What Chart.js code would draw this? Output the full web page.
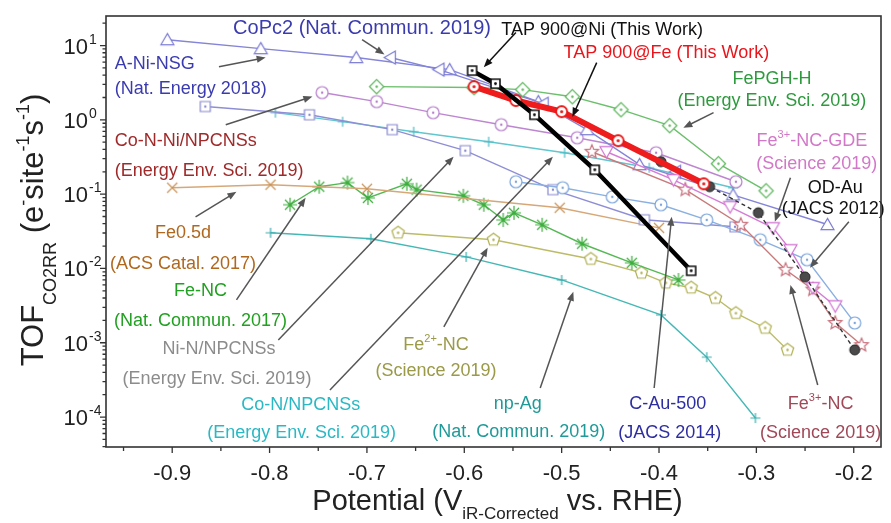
<!DOCTYPE html>
<html>
<head>
<meta charset="utf-8">
<script src="https://cdn.jsdelivr.net/npm/chart.js@4.4.0/dist/chart.umd.min.js"></script>
<style>
  html, body { margin: 0; padding: 0; background: #fff; }
  canvas { display: block; }
</style>
</head>
<body>
<canvas id="tofChart" width="891" height="523"></canvas>
<script>
'use strict';
//  axis range
var xMin = -0.968, xMax = -0.172;
var yMin = 3.95e-5, yMax = 25;
var xTicks = [-0.9, -0.8, -0.7, -0.6, -0.5, -0.4, -0.3, -0.2];
var xTickLabels = ['-0.9', '-0.8', '-0.7', '-0.6', '-0.5', '-0.4', '-0.3', '-0.2'];
var yTicks = [1e1, 1e0, 1e-1, 1e-2, 1e-3, 1e-4];
var yTickExp = ['1', '0', '-1', '-2', '-3', '-4'];

//  series : potential (V vs RHE) and TOF (e- site-1 s-1)
var tapNiX = [-0.592, -0.568, -0.528, -0.466, -0.367];
var tapNiY = [4.6, 3.07, 1.17, 0.213, 0.0093];
var tapFeX = [-0.590, -0.547, -0.500, -0.442, -0.354];
var tapFeY = [2.80, 1.82, 1.29, 0.525, 0.138];
var aNiNsgX = [-0.905, -0.809, -0.711, -0.615, -0.524, -0.474, -0.420, -0.324, -0.227];
var aNiNsgY = [12.0, 9.1, 6.9, 4.75, 1.76, 0.74, 0.25, 0.098, 0.039];
var coPc2X = [-0.676, -0.626, -0.519, -0.383];
var coPc2Y = [6.9, 4.75, 1.65, 0.20];
var fePghX = [-0.690, -0.590, -0.540, -0.489, -0.439, -0.389, -0.339, -0.290];
var fePghY = [2.80, 2.72, 2.55, 2.05, 1.37, 0.836, 0.257, 0.111];
var coNNiX = [-0.746, -0.690, -0.632, -0.562, -0.484, -0.403, -0.321];
var coNNiY = [2.33, 1.76, 1.25, 0.861, 0.575, 0.361, 0.147];
var niNX = [-0.866, -0.759, -0.674, -0.599, -0.509, -0.415, -0.322];
var niNY = [1.51, 1.17, 0.738, 0.385, 0.115, 0.0452, 0.0364];
var coNX = [-0.794, -0.725, -0.652, -0.575, -0.497, -0.410, -0.324];
var coNY = [1.25, 0.946, 0.693, 0.508, 0.361, 0.227, 0.122];
var fe05dX = [-0.900, -0.799, -0.700, -0.502, -0.400];
var fe05dY = [0.122, 0.134, 0.118, 0.0656, 0.0352];
var feNcX = [-0.779, -0.749, -0.720, -0.699, -0.659, -0.649, -0.601, -0.580, -0.560, -0.549, -0.520, -0.479, -0.428, -0.380];
var feNcY = [0.072, 0.126, 0.143, 0.089, 0.138, 0.115, 0.095, 0.072, 0.045, 0.056, 0.0387, 0.0215, 0.0119, 0.0070];
var fe2NcX = [-0.668, -0.570, -0.470, -0.418, -0.393, -0.367, -0.342, -0.321, -0.291, -0.268];
var fe2NcY = [0.0302, 0.0243, 0.0134, 0.0087, 0.0064, 0.0055, 0.0040, 0.0025, 0.00158, 0.0008];
var npAgX = [-0.799, -0.696, -0.598, -0.500, -0.398, -0.351, -0.301];
var npAgY = [0.0302, 0.0251, 0.0143, 0.0070, 0.00237, 0.00064, 0.000097];
var cAuX = [-0.547, -0.499, -0.448, -0.398, -0.351, -0.296, -0.248, -0.199];
var cAuY = [0.147, 0.122, 0.092, 0.072, 0.045, 0.0243, 0.0131, 0.00185];
var fe3GdeX = [-0.454, -0.385, -0.327, -0.283, -0.265, -0.242, -0.219];
var fe3GdeY = [0.372, 0.156, 0.0676, 0.0352, 0.0178, 0.0055, 0.00313];
var fe3NcX = [-0.469, -0.373, -0.316, -0.270, -0.242, -0.219, -0.192];
var fe3NcY = [0.372, 0.115, 0.0387, 0.0096, 0.0052, 0.00185, 0.00093];
var odAuX = [-0.398, -0.348, -0.298, -0.250, -0.199];
var odAuY = [0.274, 0.126, 0.0561, 0.0077, 0.0008];

//  text labels and arrows, in data units
var labels = [
  ['CoPc2 (Nat. Commun. 2019)', -0.705, 18.0, '#3b3bb0', 'center', 20],
  ['A-Ni-NSG', -0.959, 5.9, '#3b3bb0', 'left'],
  ['(Nat. Energy 2018)', -0.959, 2.72, '#3b3bb0', 'left'],
  ['TAP 900@Ni (This Work)', -0.562, 16.9, '#111111', 'left'],
  ['TAP 900@Fe (This Work)', -0.498, 8.3, '#e8161c', 'left'],
  ['FePGH-H', -0.284, 3.71, '#2e9a3e', 'center'],
  ['(Energy Env. Sci. 2019)', -0.284, 1.87, '#2e9a3e', 'center'],
  ['Co-N-Ni/NPCNSs', -0.959, 0.54, '#a02a2a', 'left'],
  ['(Energy Env. Sci. 2019)', -0.959, 0.213, '#a02a2a', 'left'],
  ['Fe^{3+}-NC-GDE', -0.243, 0.54, '#d278c8', 'center'],
  ['(Science 2019)', -0.238, 0.265, '#d278c8', 'center'],
  ['OD-Au', -0.219, 0.126, '#111111', 'center'],
  ['(JACS 2012)', -0.221, 0.0656, '#111111', 'center'],
  ['Fe0.5d', -0.889, 0.0311, '#b0681e', 'center'],
  ['(ACS Catal. 2017)', -0.889, 0.0119, '#b0681e', 'center'],
  ['Fe-NC', -0.871, 0.00515, '#22a022', 'center'],
  ['(Nat. Commun. 2017)', -0.871, 0.00203, '#22a022', 'center'],
  ['Ni-N/NPCNSs', -0.852, 0.00085, '#8c8c8c', 'center'],
  ['(Energy Env. Sci. 2019)', -0.854, 0.000336, '#8c8c8c', 'center'],
  ['Co-N/NPCNSs', -0.768, 0.00015, '#2ab8c4', 'center'],
  ['(Energy Env. Sci. 2019)', -0.767, 0.0000647, '#2ab8c4', 'center'],
  ['Fe^{2+}-NC', -0.629, 0.00099, '#9a9a48', 'center'],
  ['(Science 2019)', -0.629, 0.00043, '#9a9a48', 'center'],
  ['np-Ag', -0.545, 0.000155, '#1f9a98', 'center'],
  ['(Nat. Commun. 2019)', -0.544, 0.0000668, '#1f9a98', 'center'],
  ['C-Au-500', -0.391, 0.000159, '#2e2ea0', 'center'],
  ['(JACS 2014)', -0.389, 0.0000647, '#2e2ea0', 'center'],
  ['Fe^{3+}-NC', -0.234, 0.000159, '#a04858', 'center'],
  ['(Science 2019)', -0.234, 0.0000647, '#a04858', 'center']
];
var arrows = [
  [-0.852, 5.2, -0.804, 6.9, '#555'],
  [-0.705, 12.0, -0.682, 7.6, '#555'],
  [-0.547, 15.0, -0.580, 5.1, '#111'],
  [-0.464, 5.9, -0.489, 1.10, '#111'],
  [-0.344, 1.25, -0.375, 0.785, '#555'],
  [-0.845, 0.861, -0.756, 2.06, '#555'],
  [-0.265, 0.166, -0.281, 0.0425, '#555'],
  [-0.205, 0.0425, -0.245, 0.0102, '#555'],
  [-0.876, 0.0496, -0.834, 0.1076, '#555'],
  [-0.834, 0.00378, -0.763, 0.0893, '#555'],
  [-0.791, 0.00109, -0.611, 0.319, '#555'],
  [-0.738, 0.000231, -0.509, 0.319, '#555'],
  [-0.621, 0.00163, -0.576, 0.019, '#555'],
  [-0.522, 0.000246, -0.488, 0.00484, '#555'],
  [-0.405, 0.000246, -0.387, 0.0496, '#555'],
  [-0.237, 0.00027, -0.265, 0.0060, '#555']
];

var FONT = '"Liberation Sans", Arial, sans-serif';

function zip(xs, ys) {
  return xs.map(function (x, i) { return {x: x, y: ys[i]}; });
}

//  little canvases used as point styles
function marker(shape, color, size, fill, dot, lw) {
  var s = Math.ceil(size + 6);
  var cv = document.createElement('canvas');
  cv.width = s; cv.height = s;
  var g = cv.getContext('2d');
  var r = size / 2;
  g.translate(s / 2, s / 2);
  g.strokeStyle = color;
  g.lineWidth = lw || 1.2;
  function poly(n, start, rad) {
    for (var i = 0; i < n; i++) {
      var a = (start + i * 360 / n) * Math.PI / 180;
      if (i === 0) g.moveTo(rad * Math.cos(a), rad * Math.sin(a));
      else g.lineTo(rad * Math.cos(a), rad * Math.sin(a));
    }
    g.closePath();
  }
  var open = false;
  g.beginPath();
  if (shape === 'circle') g.arc(0, 0, r, 0, 2 * Math.PI);
  else if (shape === 'square') g.rect(-r, -r, size, size);
  else if (shape === 'diamond') poly(4, -90, r * 1.1);
  else if (shape === 'triUp') { g.translate(0, r * 0.2); poly(3, -90, r * 1.15); }
  else if (shape === 'triDown') { g.translate(0, -r * 0.2); poly(3, 90, r * 1.15); }
  else if (shape === 'triLeft') { g.translate(r * 0.2, 0); poly(3, 180, r * 1.15); }
  else if (shape === 'pentagon') poly(5, -90, r);
  else if (shape === 'star5') {
    for (var i = 0; i < 10; i++) {
      var a = (-90 + i * 36) * Math.PI / 180, rr = i % 2 ? r * 0.45 : r;
      if (i === 0) g.moveTo(rr * Math.cos(a), rr * Math.sin(a));
      else g.lineTo(rr * Math.cos(a), rr * Math.sin(a));
    }
    g.closePath();
  } else {
    open = true;
    if (shape === 'plus' || shape === 'asterisk') {
      g.moveTo(-r, 0); g.lineTo(r, 0); g.moveTo(0, -r); g.lineTo(0, r);
    }
    if (shape === 'cross' || shape === 'asterisk') {
      var d = r * 0.72;
      g.moveTo(-d, -d); g.lineTo(d, d); g.moveTo(d, -d); g.lineTo(-d, d);
    }
  }
  if (!open) {
    g.fillStyle = fill || '#fff';
    g.fill();
  }
  g.stroke();
  if (dot) {
    g.beginPath();
    g.arc(0, 0, dot, 0, 2 * Math.PI);
    g.fillStyle = color;
    g.fill();
  }
  return cv;
}

function series(xs, ys, color, width, style, dash) {
  return {
    data: zip(xs, ys),
    borderColor: color,
    backgroundColor: color,
    borderWidth: width,
    borderDash: dash || [],
    pointStyle: style,
    tension: 0,
    fill: false
  };
}

//  first one is drawn on top
var datasets = [
  series(tapNiX, tapNiY, '#000000', 4.5, marker('square', '#111', 9, '#fff', 1.4, 1.6)),
  series(tapFeX, tapFeY, '#ee1c1c', 6, marker('circle', '#e81818', 11, '#fff', 1.6, 1.8)),
  series(odAuX, odAuY, '#333333', 1.4, marker('circle', '#222', 10, '#4a4a4a', 0, 1), [4, 3]),
  series(fe3GdeX, fe3GdeY, '#d67cd6', 1.4, marker('triDown', '#d070d0', 13, '#fff', 0, 1.2)),
  series(fe3NcX, fe3NcY, '#c87a7a', 1.4, marker('star5', '#c86e7a', 14, '#fff', 0, 1.2)),
  series(cAuX, cAuY, '#8ab0e2', 1.4, marker('circle', '#7aa4dc', 12, '#fff', 1.2, 1.2)),
  series(fePghX, fePghY, '#6cbf6c', 1.4, marker('diamond', '#5ab55a', 13, '#fff', 1.2, 1.2)),
  series(coPc2X, coPc2Y, '#8484d8', 1.4, marker('triLeft', '#7b7bd4', 13, '#fff', 0, 1.2)),
  series(aNiNsgX, aNiNsgY, '#8484d8', 1.4, marker('triUp', '#7b7bd4', 13, '#fff', 0, 1.2)),
  series(coNNiX, coNNiY, '#bd86d0', 1.4, marker('circle', '#b57acb', 12, '#fff', 1.2, 1.2)),
  series(niNX, niNY, '#8e8ed6', 1.4, marker('square', '#8888d0', 10, '#fff', 1.2, 1.2)),
  series(coNX, coNY, '#62c6ce', 1.4, marker('plus', '#4cbcc6', 10, null, 0, 1.2)),
  series(fe05dX, fe05dY, '#d6a878', 1.4, marker('cross', '#c8925a', 14, null, 0, 1.2)),
  series(feNcX, feNcY, '#55b855', 1.4, marker('asterisk', '#3cae3c', 14, null, 0, 1.2)),
  series(fe2NcX, fe2NcY, '#bcbc68', 1.4, marker('pentagon', '#b0b052', 13, '#fff', 1.2, 1.2)),
  series(npAgX, npAgY, '#45b8b6', 1.4, marker('plus', '#3aaeae', 10, null, 0, 1.2))
];

function parts(text) {
  var out = [];
  text.split(/(\^\{[^}]*\}|_\{[^}]*\})/).forEach(function (p) {
    if (!p) return;
    if (p[0] === '^') out.push({t: p.slice(2, -1), k: 'sup'});
    else if (p[0] === '_') out.push({t: p.slice(2, -1), k: 'sub'});
    else out.push({t: p, k: 'n'});
  });
  return out;
}

//  text with ^{..} and _{..} pieces, y is the baseline
function drawRich(ctx, text, x, y, size, align, o) {
  o = o || {};
  var small = o.small || Math.round(size * 0.6);
  var supDy = o.supDy !== undefined ? o.supDy : -size * 0.38;
  var subDy = o.subDy !== undefined ? o.subDy : size * 0.3;
  var ps = parts(text), w = 0;
  ps.forEach(function (p) {
    ctx.font = (p.k === 'n' ? size : small) + 'px ' + FONT;
    p.w = ctx.measureText(p.t).width;
    w += p.w;
  });
  var cx = align === 'center' ? x - w / 2 : (align === 'right' ? x - w : x);
  ps.forEach(function (p) {
    ctx.font = (p.k === 'n' ? size : small) + 'px ' + FONT;
    var dy = p.k === 'sup' ? supDy : (p.k === 'sub' ? subDy : 0);
    ctx.fillText(p.t, cx, y + dy);
    cx += p.w;
  });
}

var decor = {
  id: 'decor',
  afterDatasetsDraw: function (chart) {
    var ctx = chart.ctx, xs = chart.scales.x, ys = chart.scales.y;
    ctx.save();
    arrows.forEach(function (a) {
      var x0 = xs.getPixelForValue(a[0]), y0 = ys.getPixelForValue(a[1]);
      var x1 = xs.getPixelForValue(a[2]), y1 = ys.getPixelForValue(a[3]);
      var ang = Math.atan2(y1 - y0, x1 - x0), L = 9, W = 3.6;
      ctx.strokeStyle = a[4]; ctx.fillStyle = a[4]; ctx.lineWidth = 1.5;
      ctx.beginPath();
      ctx.moveTo(x0, y0);
      ctx.lineTo(x1 - L * 0.8 * Math.cos(ang), y1 - L * 0.8 * Math.sin(ang));
      ctx.stroke();
      ctx.beginPath();
      ctx.moveTo(x1, y1);
      ctx.lineTo(x1 - L * Math.cos(ang) - W * Math.sin(ang), y1 - L * Math.sin(ang) + W * Math.cos(ang));
      ctx.lineTo(x1 - L * Math.cos(ang) + W * Math.sin(ang), y1 - L * Math.sin(ang) - W * Math.cos(ang));
      ctx.closePath();
      ctx.fill();
    });
    ctx.textBaseline = 'alphabetic';
    labels.forEach(function (l) {
      var size = l[5] || 18;
      ctx.fillStyle = l[3];
      drawRich(ctx, l[0], xs.getPixelForValue(l[1]), ys.getPixelForValue(l[2]) + size * 0.36, size, l[4], {small: 11, supDy: -8});
    });
    ctx.restore();
  },
  afterDraw: function (chart) {
    var ctx = chart.ctx, a = chart.chartArea, xs = chart.scales.x, ys = chart.scales.y;
    ctx.save();
    ctx.strokeStyle = '#333';
    ctx.lineWidth = 1.6;
    ctx.strokeRect(a.left, a.top, a.right - a.left, a.bottom - a.top);
    ctx.lineWidth = 1.3;
    ctx.beginPath();
    //  x ticks, major and half steps
    for (var v = -0.95; v <= xMax; v += 0.05) {
      var px = xs.getPixelForValue(v);
      var major = Math.abs(Math.round(v * 10) - v * 10) < 0.01;
      ctx.moveTo(px, a.bottom);
      ctx.lineTo(px, a.bottom + (major ? 6 : 4));
    }
    //  y ticks, decades and 2..9
    for (var e = -5; e <= 1; e++) {
      for (var m = 1; m <= 9; m++) {
        var val = m * Math.pow(10, e);
        if (val < yMin || val > yMax) continue;
        var py = ys.getPixelForValue(val);
        ctx.moveTo(a.left, py);
        ctx.lineTo(a.left - (m === 1 ? 6 : 3.5), py);
      }
    }
    ctx.stroke();

    ctx.fillStyle = '#222';
    ctx.textBaseline = 'alphabetic';
    ctx.textAlign = 'left';
    xTicks.forEach(function (t, i) {
      drawRich(ctx, xTickLabels[i], xs.getPixelForValue(t), a.bottom + 33, 22, 'center');
    });
    yTicks.forEach(function (t, i) {
      var py = ys.getPixelForValue(t);
      ctx.font = '22px ' + FONT;
      var w = ctx.measureText('10').width;
      ctx.fillText('10', 88 - w, py + 8);
      ctx.font = '14px ' + FONT;
      ctx.fillText(yTickExp[i], 89, py - 2);
    });

    //  axis titles
    drawRich(ctx, 'Potential (V_{iR-Corrected} vs. RHE)', (a.left + a.right) / 2 + 4, 510, 29, 'center', {small: 17, subDy: 9});
    ctx.save();
    ctx.translate(43, 230);
    ctx.rotate(-Math.PI / 2);
    drawRich(ctx, 'TOF_{CO2RR} (e^{-}site^{-1}s^{-1})', 0, 0, 31, 'center', {small: 18, subDy: 13, supDy: -14});
    ctx.restore();
    ctx.restore();
  }
};

new Chart(document.getElementById('tofChart'), {
  type: 'line',
  data: {datasets: datasets},
  options: {
    responsive: false,
    animation: false,
    devicePixelRatio: 1,
    layout: {padding: {left: 106, top: 16, right: 2, bottom: 76}},
    plugins: {legend: {display: false}, tooltip: {enabled: false}},
    scales: {
      x: {type: 'linear', min: xMin, max: xMax, display: false},
      y: {type: 'logarithmic', min: yMin, max: yMax, display: false}
    }
  },
  plugins: [decor]
});
</script>
</body>
</html>
